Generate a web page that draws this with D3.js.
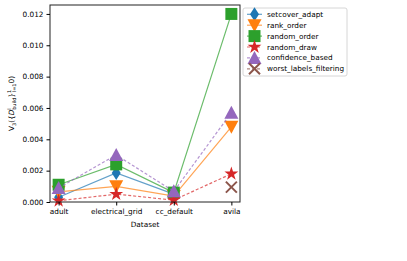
<!DOCTYPE html>
<html>
<head>
<meta charset="utf-8">
<script src="https://cdn.jsdelivr.net/npm/d3@7"></script>
<style>
  body { margin: 0; background: #fff; }
  text { font-family: "DejaVu Sans", sans-serif; }
</style>
</head>
<body>
<div id="chart"></div>
<script>
// Datasets on the x axis
const datasets = ["adult", "electrical_grid", "cc_default", "avila"];

// Values per method (null = not plotted)
const setcoverAdapt = [0.0003, 0.00185, 0.0005, null];
const rankOrder = [0.00065, 0.001, 0.00038, 0.0048];
const randomOrder = [0.0011, 0.0024, 0.0006, 0.012];
const randomDraw = [0.00008, 0.0005, 0.00012, 0.0018];
const confidenceBased = [0.0009, 0.003, 0.00068, 0.0057];
const worstLabelsFiltering = [null, null, null, 0.00095];

const yTicks = [0, 0.002, 0.004, 0.006, 0.008, 0.010, 0.012];

const series = [
  { name: "setcover_adapt", values: setcoverAdapt, color: "#1f77b4", symbol: "diamond", dash: null },
  { name: "rank_order", values: rankOrder, color: "#ff7f0e", symbol: "tri_down", dash: null },
  { name: "random_order", values: randomOrder, color: "#2ca02c", symbol: "square", dash: null },
  { name: "random_draw", values: randomDraw, color: "#d62728", symbol: "star", dash: "3,2" },
  { name: "confidence_based", values: confidenceBased, color: "#9467bd", symbol: "tri_up", dash: "3,2" },
  { name: "worst_labels_filtering", values: worstLabelsFiltering, color: "#8c564b", symbol: "x", dash: "3,2" },
];

const width = 407, height = 261;
const plot = { left: 50, right: 240, top: 5, bottom: 202 };

const svg = d3.select("#chart").append("svg")
  .attr("width", width).attr("height", height);

const x = d3.scaleLinear().domain([-0.15, 3.15]).range([plot.left, plot.right]);
const y = d3.scaleLinear().domain([0, 0.01257]).range([plot.bottom, plot.top]);

// Marker paths
function markerPath(symbol) {
  switch (symbol) {
    case "diamond": return "M0,-7L4.5,0L0,7L-4.5,0Z";
    case "tri_down": return "M-7,-6L7,-6L0,7Z";
    case "tri_up": return "M-7,6L7,6L0,-7Z";
    case "square": return "M-6,-6L6,-6L6,6L-6,6Z";
    case "star": return d3.symbol(d3.symbolStar, 60)();
    case "x": return "M-5.5,-5.5L5.5,5.5M-5.5,5.5L5.5,-5.5";
  }
}

function drawMarker(g, s, cx, cy) {
  const p = g.append("path")
    .attr("d", markerPath(s.symbol))
    .attr("transform", `translate(${cx},${cy})`);
  if (s.symbol === "x") {
    p.attr("fill", "none").attr("stroke", s.color).attr("stroke-width", 2);
  } else {
    p.attr("fill", s.color);
  }
}

// Lines
const line = d3.line()
  .defined((d) => d != null)
  .x((d, i) => x(i))
  .y((d) => y(d));

const marks = svg.append("g");
series.forEach((s) => {
  marks.append("path")
    .datum(s.values)
    .attr("d", line)
    .attr("fill", "none")
    .attr("stroke", s.color)
    .attr("stroke-opacity", 0.7)
    .attr("stroke-width", 1.2)
    .attr("stroke-dasharray", s.dash);
  s.values.forEach((v, i) => {
    if (v != null) drawMarker(marks, s, x(i), y(v));
  });
});

// Frame
svg.append("rect")
  .attr("x", plot.left).attr("y", plot.top)
  .attr("width", plot.right - plot.left).attr("height", plot.bottom - plot.top)
  .attr("fill", "none").attr("stroke", "#222").attr("stroke-width", 1);

// Axes
const xAxis = svg.append("g")
  .attr("transform", `translate(0,${plot.bottom})`)
  .call(d3.axisBottom(x).tickValues(d3.range(datasets.length))
    .tickFormat((i) => datasets[i]).tickSize(3.5).tickPadding(3));
const yAxis = svg.append("g")
  .attr("transform", `translate(${plot.left},0)`)
  .call(d3.axisLeft(y).tickValues(yTicks).tickFormat(d3.format(".3f"))
    .tickSize(3.5).tickPadding(3));
[xAxis, yAxis].forEach((a) => {
  a.select(".domain").remove();
  a.selectAll("text").attr("font-size", 7.3).attr("fill", "#000")
    .attr("font-family", "DejaVu Sans");
  a.selectAll("line").attr("stroke", "#000");
});

svg.append("text")
  .attr("x", (plot.left + plot.right) / 2).attr("y", 227)
  .attr("text-anchor", "middle").attr("font-size", 7.3)
  .text("Dataset");

// Y label with sub/superscripts
const yl = svg.append("text")
  .attr("transform", `translate(14,${(plot.top + plot.bottom) / 2}) rotate(-90)`)
  .attr("text-anchor", "middle").attr("font-size", 7.3);
yl.append("tspan").text("V");
yl.append("tspan").attr("font-size", 5).attr("dy", 2).text("3");
yl.append("tspan").attr("dy", -2).text("({");
yl.append("tspan").attr("font-style", "italic").text("D");
yl.append("tspan").attr("font-size", 5).attr("dy", -3).text("l");
yl.append("tspan").attr("font-size", 5).attr("dx", -1.5).attr("dy", 5).text("build");
yl.append("tspan").attr("dy", -2).text("}");
yl.append("tspan").attr("font-size", 5).attr("dy", -3).text("1");
yl.append("tspan").attr("font-size", 5).attr("dx", -2.5).attr("dy", 5).text("l=1");
yl.append("tspan").attr("dy", -2).text("0)");

// Legend
const legend = svg.append("g").attr("transform", "translate(243,8)");
legend.append("rect")
  .attr("width", 104).attr("height", 68).attr("rx", 2)
  .attr("fill", "#fff").attr("stroke", "#ccc").attr("stroke-width", 0.8);
series.forEach((s, i) => {
  const ly = 6.3 + i * 10.9;
  const g = legend.append("g");
  g.append("line")
    .attr("x1", 4).attr("x2", 19).attr("y1", ly).attr("y2", ly)
    .attr("stroke", s.color).attr("stroke-opacity", 0.7).attr("stroke-width", 1.2)
    .attr("stroke-dasharray", s.dash);
  drawMarker(g, s, 11.5, ly);
  g.append("text")
    .attr("x", 24).attr("y", ly).attr("dy", "0.35em")
    .attr("font-size", 7.3).text(s.name);
});
</script>
</body>
</html>
